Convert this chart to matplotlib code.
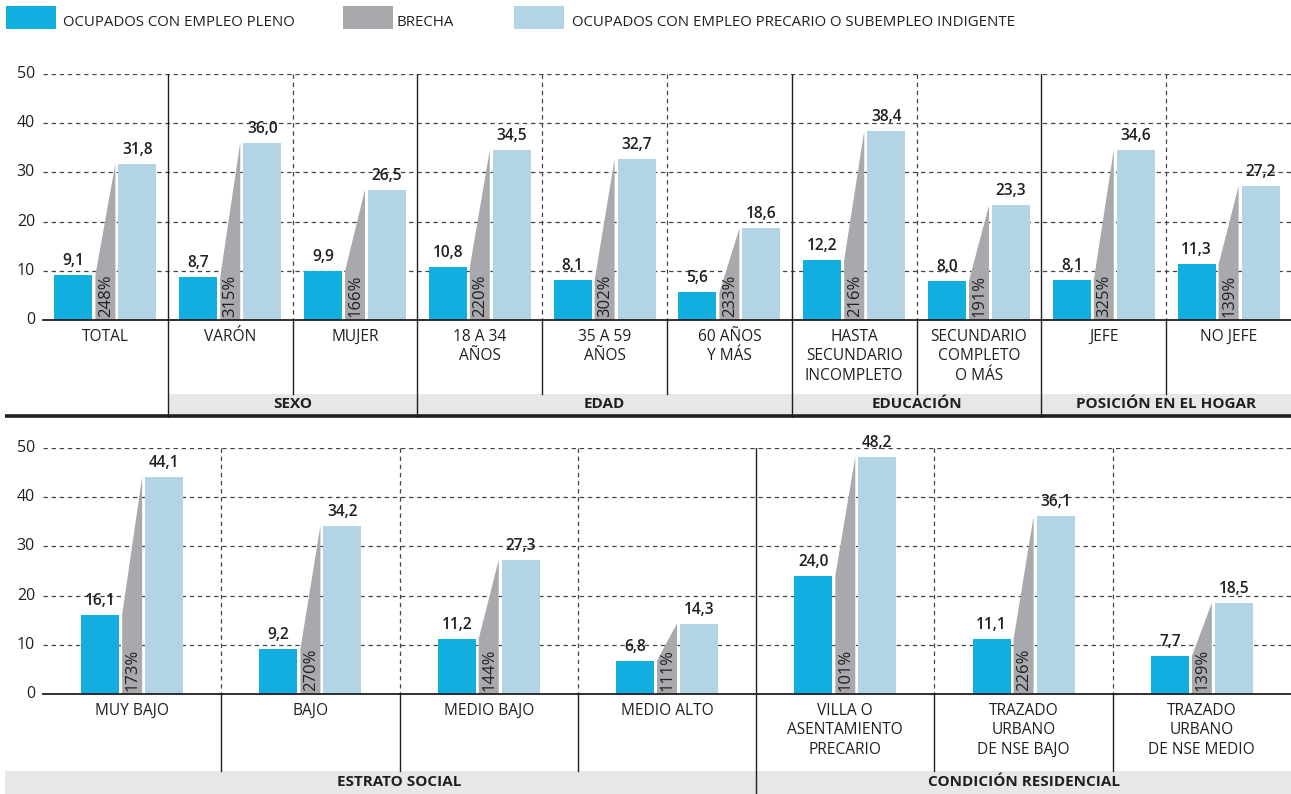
import matplotlib
matplotlib.use("Agg")
import matplotlib.pyplot as plt
from matplotlib.patches import Rectangle

plt.rcParams['font.family'] = ['Open Sans', 'DejaVu Sans']

# datos panel superior
cats_top = ["TOTAL", "VARÓN", "MUJER", "18 A 34\nAÑOS", "35 A 59\nAÑOS", "60 AÑOS\nY MÁS",
            "HASTA\nSECUNDARIO\nINCOMPLETO", "SECUNDARIO\nCOMPLETO\nO MÁS", "JEFE", "NO JEFE"]
pleno_top = [9.1, 8.7, 9.9, 10.8, 8.1, 5.6, 12.2, 8.0, 8.1, 11.3]
precario_top = [31.8, 36.0, 26.5, 34.5, 32.7, 18.6, 38.4, 23.3, 34.6, 27.2]
brecha_top = [248, 315, 166, 220, 302, 233, 216, 191, 325, 139]
groups_top = [("SEXO", 1, 3), ("EDAD", 3, 6), ("EDUCACIÓN", 6, 8), ("POSICIÓN EN EL HOGAR", 8, 10)]

# datos panel inferior
cats_bot = ["MUY BAJO", "BAJO", "MEDIO BAJO", "MEDIO ALTO", "VILLA O\nASENTAMIENTO\nPRECARIO",
            "TRAZADO\nURBANO\nDE NSE BAJO", "TRAZADO\nURBANO\nDE NSE MEDIO"]
pleno_bot = [16.1, 9.2, 11.2, 6.8, 24.0, 11.1, 7.7]
precario_bot = [44.1, 34.2, 27.3, 14.3, 48.2, 36.1, 18.5]
brecha_bot = [173, 270, 144, 111, 101, 226, 139]
groups_bot = [("ESTRATO SOCIAL", 0, 4), ("CONDICIÓN RESIDENCIAL", 4, 7)]

legend_labels = ["OCUPADOS CON EMPLEO PLENO", "BRECHA",
                 "OCUPADOS CON EMPLEO PRECARIO O SUBEMPLEO INDIGENTE"]

BLUE = "#12aedf"
GRAY = "#a7a9ac"
LIGHT = "#b3d4e4"
BAND = "#e6e7e8"
TXT = "#231f20"

W, H = 1291, 794
PPU = 4.92  # pixels por unidad en y
fig = plt.figure(figsize=(W / 100, H / 100), dpi=100)


def fmt(v):
    return f"{v:.1f}".replace(".", ",")


def panel(cats, pleno, precario, brecha, groups, y0, top, bottom, band_top, band_bot,
          band_start, thick):
    n = len(cats)
    colw = (W - 43) / n
    ax = fig.add_axes([5 / W, (H - bottom) / H, (W - 5) / W, (bottom - top) / H])
    xl = -(43 - 5) / colw
    ax.set_xlim(xl, n)
    ylo = -(bottom - y0) / PPU
    ax.set_ylim(ylo, (y0 - top) / PPU)
    ax.axis("off")

    def py(p):
        return (y0 - p) / PPU

    px = 1 / colw  # un pixel en x
    # grilla
    for v in range(10, 51, 10):
        ax.plot([0, n], [v, v], color="#444444", lw=0.9, dashes=(3.5, 3), zorder=1)
    ax.plot([0, n], [0, 0], color="#231f20", lw=1.3, zorder=4)
    for v in range(0, 51, 10):
        ax.text(-8 * px, v, str(v), ha="right", va="center", fontsize=11.5, color=TXT)

    # divisores
    bounds = set()
    for _, a, b in groups:
        bounds.add(a)
        bounds.add(b)
    for i in range(1, n):
        if i in bounds:
            ax.plot([i, i], [50, ylo], color="#231f20", lw=1.0, zorder=2)
        else:
            ax.plot([i, i], [50, 0], color="#444444", lw=0.9, dashes=(3.5, 3), zorder=1)
            ax.plot([i, i], [0, py(band_top)], color="#231f20", lw=1.0, zorder=2)

    # barras
    for i in range(n):
        c = i + 0.5
        ax.bar(c - 32 * px, pleno[i], width=38 * px, color=BLUE, zorder=3)
        ax.bar(c + 32 * px, precario[i], width=38 * px, color=LIGHT, zorder=3)
        x0, x1 = c - 10 * px, c + 10 * px
        ax.fill([x0, x0, x1, x1], [0, pleno[i], precario[i], 0], color=GRAY, lw=0, zorder=3)
        ax.text(c - 32 * px, pleno[i] + 6 / PPU, fmt(pleno[i]), ha="center", va="bottom",
                fontsize=11.2, fontweight="semibold", color=TXT)
        ax.text(c + 32 * px, precario[i] + 6 / PPU, fmt(precario[i]), ha="center", va="bottom",
                fontsize=11.2, fontweight="semibold", color=TXT)
        ax.text(c + 0.5 * px, 3 / PPU, f"{brecha[i]}%", rotation=90, ha="center", va="bottom",
                fontsize=12, color=TXT, zorder=5)
        ax.text(c, py(y0 + 9), cats[i], ha="center", va="top", fontsize=11.2, color=TXT,
                linespacing=1.28)

    # bandas de grupo
    bx0 = band_start if band_start is not None else xl
    ax.add_patch(Rectangle((bx0, py(band_bot)), n - bx0, py(band_top) - py(band_bot),
                           facecolor=BAND, edgecolor="none", zorder=0))
    for name, a, b in groups:
        ax.text((a + b) / 2, (py(band_top) + py(band_bot)) / 2, name, ha="center", va="center",
                fontsize=11, fontweight="bold", color=TXT)
    if thick:
        ax.plot([xl, n], [py(thick), py(thick)], color="#231f20", lw=2.6, zorder=5)
    return ax


panel(cats_top, pleno_top, precario_top, brecha_top, groups_top,
      y0=320, top=74, bottom=418, band_top=394, band_bot=415, band_start=1, thick=416)
panel(cats_bot, pleno_bot, precario_bot, brecha_bot, groups_bot,
      y0=694, top=448, bottom=794, band_top=771, band_bot=794, band_start=None, thick=None)

# leyenda
for (x, col, tx), lab in zip([(6, BLUE, 63), (343, GRAY, 397), (514, LIGHT, 572)], legend_labels):
    fig.add_artist(Rectangle((x / W, 1 - 29 / H), 50 / W, 23 / H, facecolor=col,
                             edgecolor="none", transform=fig.transFigure))
    fig.text(tx / W, 1 - 26 / H, lab, ha="left", va="baseline", fontsize=10.8, color=TXT)

fig.savefig("out.png", dpi=100)
